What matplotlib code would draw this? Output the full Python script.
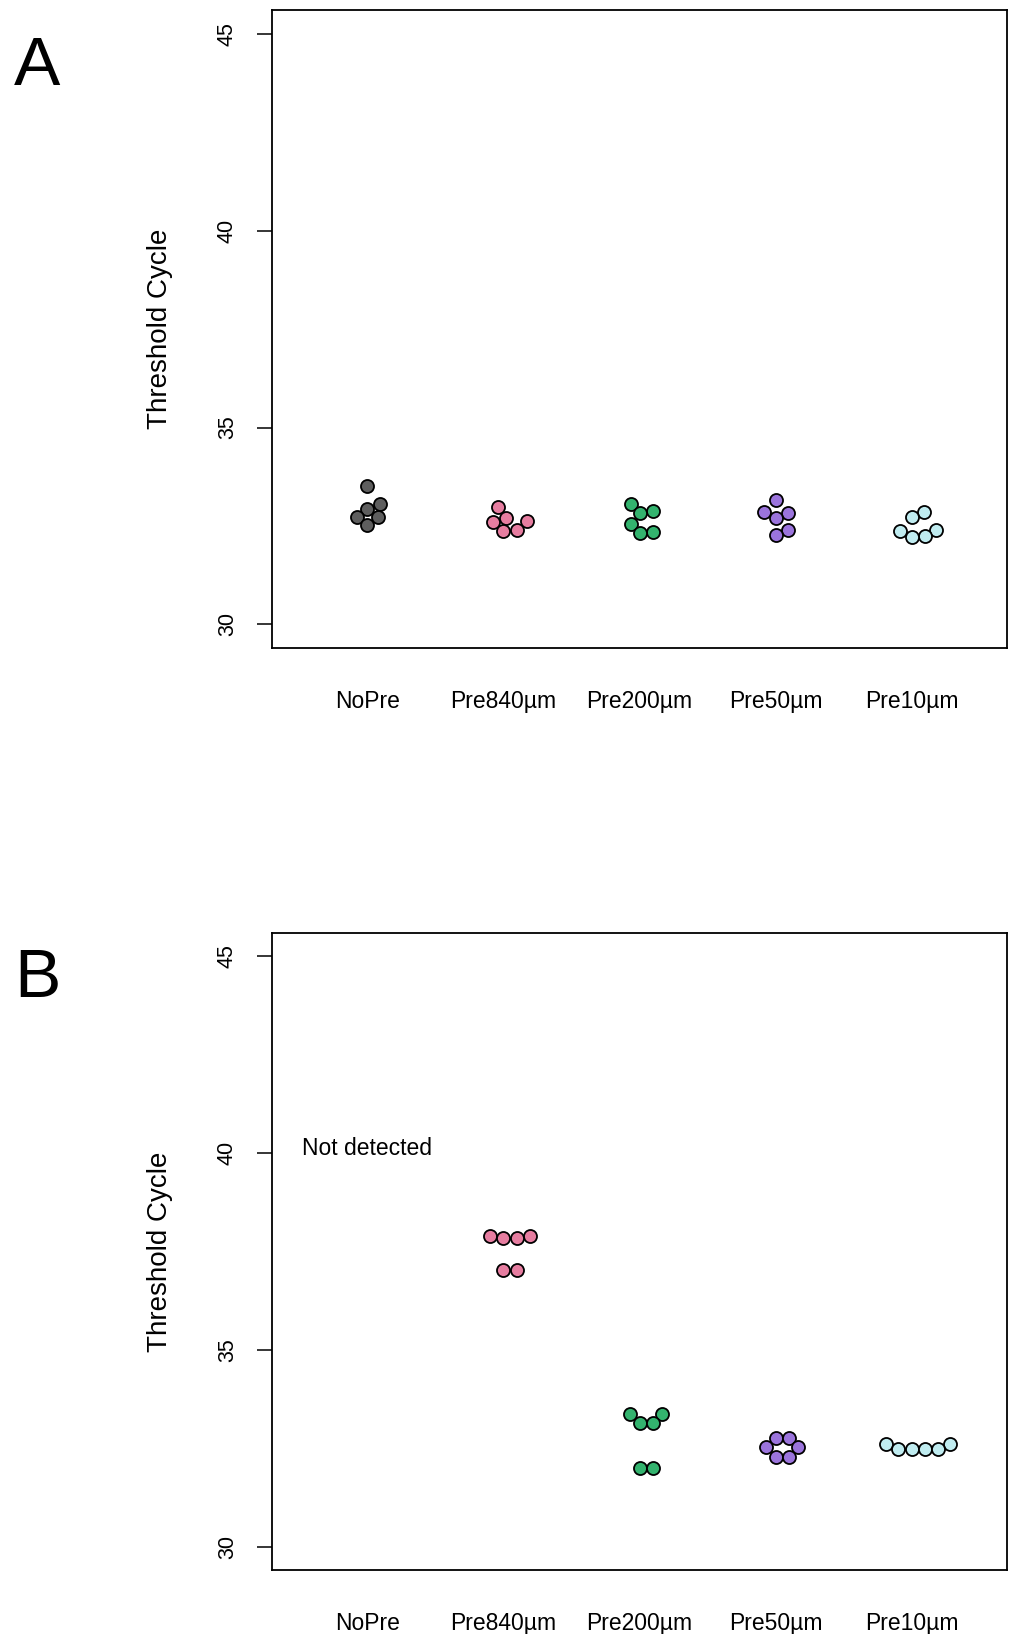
import numpy as np
import matplotlib
matplotlib.use("Agg")
import matplotlib.pyplot as plt
from matplotlib import font_manager

# ---------------- data ----------------
categories = ["NoPre", "Pre840µm", "Pre200µm", "Pre50µm", "Pre10µm"]
colors = ["#5E5E5E", "#E67DA0", "#33B36E", "#9B74DC", "#C0ECF0"]

# Panel A threshold cycles
a_nopre = [33.51, 33.07, 32.94, 32.73, 32.73, 32.52]
a_pre840 = [32.98, 32.71, 32.63, 32.59, 32.41, 32.37]
a_pre200 = [33.07, 32.88, 32.82, 32.56, 32.35, 32.31]
a_pre50 = [33.15, 32.86, 32.82, 32.71, 32.41, 32.26]
a_pre10 = [32.86, 32.73, 32.41, 32.37, 32.24, 32.21]

# Panel B threshold cycles (NoPre not detected)
b_nopre = []
b_pre840 = [37.89, 37.89, 37.84, 37.84, 37.03, 37.03]
b_pre200 = [33.37, 33.37, 33.13, 33.13, 31.99, 31.99]
b_pre50 = [32.76, 32.76, 32.52, 32.52, 32.28, 32.28]
b_pre10 = [32.61, 32.61, 32.47, 32.47, 32.47, 32.47]

panel_a = [a_nopre, a_pre840, a_pre200, a_pre50, a_pre10]
panel_b = [b_nopre, b_pre840, b_pre200, b_pre50, b_pre10]

yticks = [30, 35, 40, 45]
ylabel = "Threshold Cycle"
note_text = "Not detected"
note_y = 40.13

# ---------------- fonts ----------------
names = {f.name for f in font_manager.fontManager.ttflist}
base_font = "Liberation Sans" if "Liberation Sans" in names else "DejaVu Sans"
plt.rcParams["font.family"] = [base_font, "DejaVu Sans"]

W, H, DPI = 1014, 1634, 100
fig = plt.figure(figsize=(W / DPI, H / DPI), dpi=DPI)


def swarm(ax, xc, vals, spacing):
    """beeswarm 'swarm' layout (ascending priority) in pixel space."""
    if len(vals) == 0:
        return np.array([])
    pts = ax.transData.transform(np.column_stack([np.full(len(vals), xc), vals]))
    ypx = pts[:, 1]
    order = np.argsort(ypx, kind="stable")
    placed = []
    offs = np.zeros(len(vals))
    s2 = spacing ** 2
    for i in order:
        y = ypx[i]
        near = [(xo, yo) for xo, yo in placed if abs(yo - y) < spacing]
        cands = [0.0]
        ds = [np.sqrt(max(s2 - (yo - y) ** 2, 0)) for xo, yo in near]
        cands += [xo + d for (xo, yo), d in zip(near, ds)]
        cands += [xo - d for (xo, yo), d in zip(near, ds)]
        valid = [c for c in cands
                 if all((c - xo) ** 2 + (y - yo) ** 2 >= s2 - 2.0 for xo, yo in near)]
        best = min(valid, key=abs)
        offs[i] = best
        placed.append((best, y))
    x0 = ax.transData.transform((xc, 0))[0]
    x1 = ax.transData.transform((xc + 1, 0))[0]
    return xc + offs / (x1 - x0)


def panel(rect, data, letter, letter_xy, note=False):
    ax = fig.add_axes(rect)
    ax.set_xlim(0.3, 5.7)
    ax.set_ylim(29.4, 45.6)
    for sp in ax.spines.values():
        sp.set_linewidth(1.3)
    ax.set_yticks(yticks)
    ax.set_yticklabels([str(t) for t in yticks], rotation=90, va="center")
    ax.tick_params(axis="y", length=10.5, width=1.1, pad=14, labelsize=15.5)
    ax.set_xticks(range(1, len(categories) + 1))
    ax.set_xticklabels(categories)
    ax.tick_params(axis="x", length=0, pad=30, labelsize=16.5)
    ax.set_ylabel(ylabel, fontsize=20, labelpad=32)
    for k, vals in enumerate(data):
        xs = swarm(ax, k + 1, vals, 13.3)
        if len(vals):
            ax.scatter(xs, vals, s=88, c=colors[k], edgecolors="black",
                       linewidths=1.3, zorder=3)
    if note:
        ax.text(1, note_y, note_text, ha="center", va="center", fontsize=16.5)
    fig.text(letter_xy[0] / W, 1 - letter_xy[1] / H, letter, fontsize=50,
             ha="center", va="center")
    return ax


ax_a = panel([272 / W, 1 - 648 / H, 735 / W, 637.6 / H], panel_a, "A", (37, 67))
ax_b = panel([272 / W, 1 - 1570.2 / H, 735 / W, 637.4 / H], panel_b, "B", (37, 979), note=True)

fig.savefig("out.png", dpi=DPI)
